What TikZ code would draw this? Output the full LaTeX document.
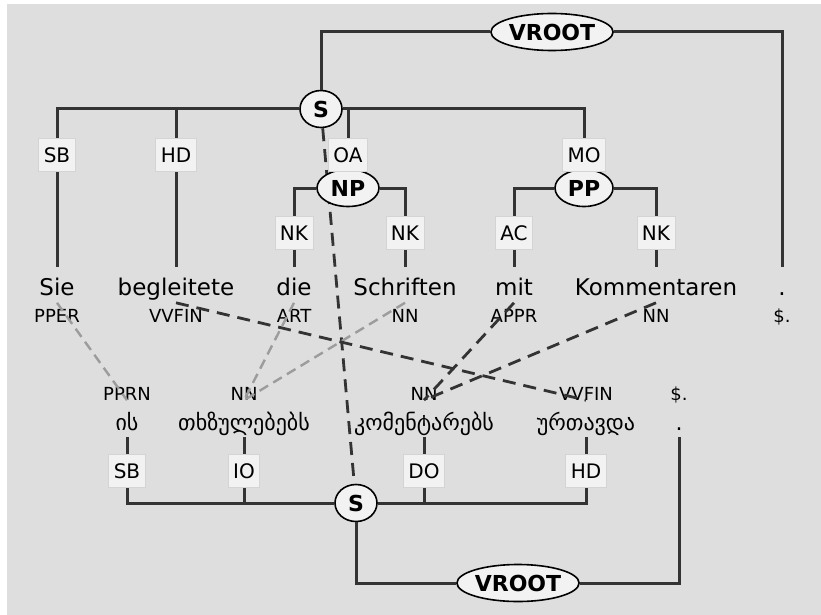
\documentclass[tikz,border=0pt]{standalone}
\usepackage{fontspec}
\setmainfont{DejaVu Sans}
\usetikzlibrary{shapes.geometric}

\definecolor{PanelGray}{HTML}{DEDEDE}
\definecolor{BoxFill}{HTML}{F2F2F2}
\definecolor{BoxLine}{HTML}{D4D4D4}
\definecolor{EdgeGray}{HTML}{333333}
\definecolor{AlignLight}{HTML}{9C9C9C}

% German token: word on the word row, tag just below it
\newcommand{\TopToken}[4]{%
  \node[word] (w-#1) at (#2,\TopWordY) {#3};
  \node[toptag] (t-#1) at (#2,\TopTagY) {#4};
}
% Georgian token: tag on top, word below it
\newcommand{\BotToken}[4]{%
  \node[bottag] (gt-#1) at (#2,\BotTagY) {#4};
  \node[gword] (g-#1) at (#2,\BotWordY) {#3};
}

\begin{document}
\begin{tikzpicture}[x=1pt,y=-1pt,
  word/.style={anchor=base,font=\fontsize{23}{26}\selectfont,text height=17pt,text depth=5pt,inner xsep=1pt,inner ysep=11pt},
  gword/.style={anchor=base,font=\fontsize{22}{24}\selectfont,text height=15pt,text depth=0pt,inner xsep=1pt,inner ysep=7pt},
  toptag/.style={anchor=base,font=\fontsize{18}{20}\selectfont,text height=13pt,text depth=0pt,inner xsep=0pt,inner ysep=6pt},
  bottag/.style={anchor=base,font=\fontsize{18}{20}\selectfont,text height=13pt,text depth=0pt,inner sep=0pt},
  lbl/.style={draw=BoxLine,fill=BoxFill,line width=0.8pt,font=\fontsize{20}{22}\selectfont,inner xsep=5pt,minimum height=33pt},
  cat/.style={ellipse,draw=black,fill=BoxFill,line width=1.6pt,font=\bfseries\fontsize{22}{24}\selectfont,inner sep=0pt,minimum height=37pt,minimum width=42pt},
  tree/.style={draw=EdgeGray,line width=3pt},
  aligndark/.style={draw=EdgeGray,line width=2.8pt,dash pattern=on 13pt off 8pt},
  alignlight/.style={draw=AlignLight,line width=2.4pt,dash pattern=on 10pt off 6pt}]

% ---------------- parameters ----------------
\pgfmathsetmacro{\TopWordY}{295}   % baseline of the German words
\pgfmathsetmacro{\TopTagY}{322}    % baseline of the German tags
\pgfmathsetmacro{\TopLblY}{155}    % edge labels under the S bar
\pgfmathsetmacro{\SubLblY}{233}    % edge labels under NP and PP
\pgfmathsetmacro{\BotTagY}{400}    % baseline of the Georgian tags
\pgfmathsetmacro{\BotWordY}{430}   % baseline of the Georgian words
\pgfmathsetmacro{\BotLblY}{471}    % edge labels above the lower S bar

\useasboundingbox (0,0) rectangle (821,615);
\fill[PanelGray] (7,4) rectangle (821,615);

% ---------------- tokens ----------------
\TopToken{sie}{57}{Sie}{PPER}
\TopToken{begl}{176}{begleitete}{VVFIN}
\TopToken{die}{294}{die}{ART}
\TopToken{schr}{405}{Schriften}{NN}
\TopToken{mit}{514}{mit}{APPR}
\TopToken{komm}{656}{Kommentaren}{NN}
\TopToken{punct}{782}{.}{\$.}

\BotToken{is}{127}{ის}{PPRN}
\BotToken{txz}{244}{თხზულებებს}{NN}
\BotToken{kom}{424}{კომენტარებს}{NN}
\BotToken{urt}{586}{ურთავდა}{VVFIN}
\BotToken{punct}{679}{.}{\$.}

% ---------------- sentence nodes ----------------
\node[cat] (s-top) at (321,109) {S};
\node[cat] (g-s) at (356,503) {S};

% S to S alignment runs behind the NP node
\draw[aligndark] (s-top) -- (g-s);

\node[cat,minimum width=120pt] (vroot) at (552,32) {VROOT};
\node[cat,minimum width=62pt] (np) at (348,188) {NP};
\node[cat,minimum width=58pt] (pp) at (584,188) {PP};
\node[cat,minimum width=120pt] (groot) at (518,583) {VROOT};

% ---------------- German tree ----------------
\draw[tree] (vroot) -| (s-top);
\draw[tree] (vroot) -| (w-punct);
\draw[tree] (s-top) -| (w-sie);
\draw[tree] (s-top) -| (w-begl);
\draw[tree] (s-top) -| (np);
\draw[tree] (s-top) -| (pp);
\draw[tree] (np) -| (w-die);
\draw[tree] (np) -| (w-schr);
\draw[tree] (pp) -| (w-mit);
\draw[tree] (pp) -| (w-komm);

\node[lbl] (l-sb) at (57,\TopLblY) {SB};
\node[lbl] (l-hd) at (176,\TopLblY) {HD};
\node[lbl] (l-oa) at (348,\TopLblY) {OA};
\node[lbl] (l-mo) at (584,\TopLblY) {MO};
\node[lbl] (l-nk1) at (294,\SubLblY) {NK};
\node[lbl] (l-nk2) at (405,\SubLblY) {NK};
\node[lbl] (l-ac) at (514,\SubLblY) {AC};
\node[lbl] (l-nk3) at (656,\SubLblY) {NK};

% ---------------- Georgian tree ----------------
\draw[tree] (g-s) |- (groot);
\draw[tree] (g-punct) |- (groot);
\draw[tree] (g-s) -| (g-is);
\draw[tree] (g-s) -| (g-txz);
\draw[tree] (g-s) -| (g-kom);
\draw[tree] (g-s) -| (g-urt);

\node[lbl] (gl-sb) at (127,\BotLblY) {SB};
\node[lbl] (gl-io) at (244,\BotLblY) {IO};
\node[lbl] (gl-do) at (424,\BotLblY) {DO};
\node[lbl] (gl-hd) at (586,\BotLblY) {HD};

% ---------------- word alignment ----------------
\draw[alignlight] (t-sie.north) -- (gt-is.south);
\draw[alignlight] (t-die.north) -- (gt-txz.south);
\draw[alignlight] (t-schr.north) -- (gt-txz.south);
\draw[aligndark] (t-begl.north) -- (gt-urt.south);
\draw[aligndark] (t-mit.north) -- (gt-kom.south);
\draw[aligndark] (t-komm.north) -- (gt-kom.south);

\end{tikzpicture}
\end{document}
